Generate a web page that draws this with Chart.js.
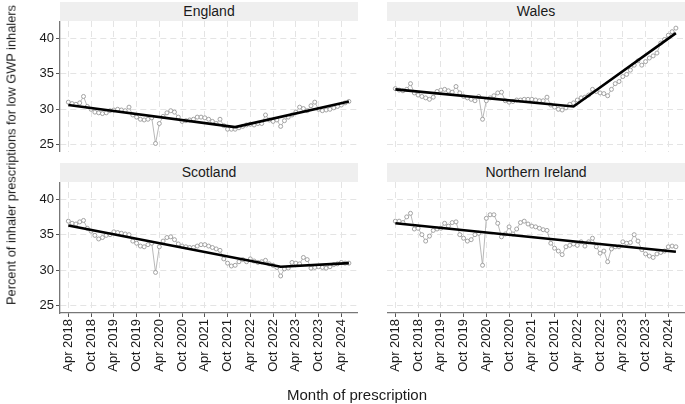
<!DOCTYPE html>
<html>
<head>
<meta charset="utf-8">
<script src="https://cdn.jsdelivr.net/npm/chart.js@4.4.0/dist/chart.umd.min.js"></script>
<style>
  body { margin: 0; background: #fff; }
  #wrap { position: relative; width: 685px; height: 404px; overflow: hidden;
          font-family: 'Liberation Sans', Arial, sans-serif; color: #1a1a1a; }
  #wrap canvas { position: absolute; }
  .strip { position: absolute; height: 19px; background: #efefef; font-size: 14px;
           line-height: 19px; text-align: center; }
  .ytitle { position: absolute; left: 11px; top: 155px; white-space: nowrap; font-size: 12.8px;
            transform: translate(-50%, -50%) rotate(-90deg); }
  .xtitle { position: absolute; left: 357px; top: 394px; white-space: nowrap; font-size: 15px;
            transform: translate(-50%, -50%); }
</style>
</head>
<body>
<div id="wrap">
  <div class="strip" style="left:60px; top:2px; width:298px;">England</div>
  <div class="strip" style="left:387px; top:2px; width:298px;">Wales</div>
  <div class="strip" style="left:60px; top:163px; width:298px;">Scotland</div>
  <div class="strip" style="left:387px; top:163px; width:298px;">Northern Ireland</div>

  <canvas id="england" width="358" height="131" style="left:0; top:21px;"></canvas>
  <canvas id="wales" width="298" height="131" style="left:387px; top:21px;"></canvas>
  <canvas id="scotland" width="358" height="222" style="left:0; top:182px;"></canvas>
  <canvas id="ni" width="298" height="222" style="left:387px; top:182px;"></canvas>

  <div class="ytitle">Percent of inhaler prescriptions for low GWP inhalers</div>
  <div class="xtitle">Month of prescription</div>
</div>

<script>
// 月次データ（2018年4月〜2024年6月, 75か月）
const england = [31.0,30.8,30.7,30.9,31.8,30.4,30.0,29.6,29.5,29.4,
  29.5,29.8,29.9,30.0,29.9,29.8,30.3,29.2,28.9,28.6,
  28.5,28.6,28.8,25.2,28.0,29.0,29.5,29.8,29.6,28.9,
  28.3,28.4,28.5,28.6,28.9,28.9,28.8,28.6,28.3,28.0,
  28.6,27.7,27.2,27.2,27.2,27.4,27.6,27.8,27.9,27.8,
  28.0,28.0,29.2,28.5,28.3,28.5,27.6,28.4,28.9,29.2,
  29.6,30.3,30.1,29.8,30.5,31.0,30.0,29.8,29.9,30.0,
  30.2,30.4,30.6,30.9,31.1];
const wales = [32.9,32.7,32.6,32.8,33.6,32.3,32.0,31.8,31.6,31.4,
  31.7,32.5,32.7,32.8,32.6,32.4,33.2,32.3,31.8,31.6,
  31.4,31.2,31.8,28.6,31.2,31.6,31.9,32.3,32.4,31.2,
  31.0,31.1,31.3,31.3,31.4,31.4,31.4,31.3,31.2,31.2,
  31.7,30.6,30.3,30.0,29.9,30.2,30.7,30.9,31.3,31.6,
  31.7,32.0,32.8,32.5,32.3,32.2,31.9,32.8,33.6,33.9,
  34.6,34.9,35.5,36.2,36.8,36.2,36.7,37.2,37.5,37.9,
  39.3,39.8,40.4,40.9,41.4];
const scotland = [36.9,36.6,36.5,36.8,37.0,35.9,35.5,34.9,34.4,34.6,
  34.9,35.0,35.4,35.3,35.2,35.1,35.0,34.1,33.8,33.4,
  33.3,33.6,33.8,29.7,33.3,34.1,34.6,34.7,34.3,33.7,
  33.4,33.3,33.2,33.2,33.4,33.6,33.6,33.4,33.2,33.0,
  32.8,31.6,31.0,30.6,30.7,31.2,31.5,31.2,31.6,31.3,
  31.1,31.2,31.4,30.9,30.7,30.4,29.2,30.2,30.3,31.1,
  31.0,30.9,31.8,31.5,30.3,30.4,30.5,30.4,30.3,30.5,
  30.8,30.9,31.1,31.0,31.0];
const northernIreland = [36.9,36.9,36.7,37.5,38.0,35.8,35.9,35.0,34.1,34.8,
  35.6,35.8,35.9,36.6,36.2,36.7,36.8,35.0,34.5,34.1,
  34.3,35.0,35.2,30.7,37.3,37.8,37.8,36.6,34.7,35.1,
  36.1,35.1,35.8,36.7,36.9,36.5,36.2,36.1,35.9,35.7,
  35.6,33.8,33.1,32.7,32.2,33.3,33.5,33.7,33.5,34.0,
  33.4,34.0,34.5,33.3,32.4,32.7,31.2,33.0,33.3,33.3,
  34.0,33.8,33.9,35.0,34.1,32.9,32.3,32.0,31.8,32.3,
  32.5,32.7,33.3,33.4,33.3];

// トレンド線（折れ点の月インデックスと値）
const englandTrendX = [0, 44, 74];
const englandTrendY = [30.6, 27.5, 31.1];
const walesTrendX = [0, 47, 74];
const walesTrendY = [32.8, 30.4, 40.7];
const scotlandTrendX = [0, 56, 74];
const scotlandTrendY = [36.3, 30.5, 31.0];
const niTrendX = [0, 74];
const niTrendY = [36.6, 32.6];

// 軸目盛
const xTickPos = [0, 6, 12, 18, 24, 30, 36, 42, 48, 54, 60, 66, 72];
const xTickLabels = ['Apr 2018','Oct 2018','Apr 2019','Oct 2019','Apr 2020','Oct 2020',
  'Apr 2021','Oct 2021','Apr 2022','Oct 2022','Apr 2023','Oct 2023','Apr 2024'];
const yTickPos = [25, 30, 35, 40];

const fontFamily = "'Liberation Sans', Arial, sans-serif";

function makePanel(id, values, trendX, trendY, showY, showX) {
    let points = values.map((v, i) => ({ x: i, y: v }));
    let trend = trendX.map((x, i) => ({ x: x, y: trendY[i] }));

    new Chart(document.getElementById(id), {
        type: 'line',
        data: {
            datasets: [{
                data: trend,
                borderColor: '#000',
                borderWidth: 2.6,
                pointRadius: 0,
                tension: 0
            }, {
                data: points,
                borderColor: '#a6a6a6',
                borderWidth: 0.8,
                pointRadius: 2,
                pointBackgroundColor: '#fff',
                pointBorderColor: '#9a9a9a',
                pointBorderWidth: 0.9,
                tension: 0
            }]
        },
        options: {
            responsive: false,
            animation: false,
            devicePixelRatio: 1,
            layout: { padding: 0, autoPadding: false },
            plugins: { legend: { display: false }, tooltip: { enabled: false } },
            scales: {
                x: {
                    type: 'linear',
                    min: -2.2,
                    max: 76.4,
                    afterBuildTicks: s => { s.ticks = xTickPos.map(v => ({ value: v })); },
                    afterFit: s => {
                        s.height = showX ? 91 : 0;
                        s.paddingLeft = 0;
                        s.paddingRight = 0;
                    },
                    grid: {
                        color: '#e4e4e4',
                        lineWidth: 1,
                        drawTicks: showX,
                        tickLength: 4,
                        tickColor: '#555',
                        tickWidth: 1
                    },
                    border: { display: showX, color: '#777', width: 1.3, dash: [6, 4] },
                    ticks: {
                        display: showX,
                        autoSkip: false,
                        maxRotation: 90,
                        minRotation: 90,
                        padding: 2,
                        color: '#1a1a1a',
                        font: { family: fontFamily, size: 13 },
                        callback: v => xTickLabels[xTickPos.indexOf(v)]
                    }
                },
                y: {
                    min: 24.0,
                    max: 42.4,
                    afterBuildTicks: s => { s.ticks = yTickPos.map(v => ({ value: v })); },
                    afterFit: s => {
                        s.width = showY ? 60 : 0;
                        s.paddingTop = 0;
                        s.paddingBottom = 0;
                    },
                    grid: {
                        color: '#e4e4e4',
                        lineWidth: 1,
                        drawTicks: showY,
                        tickLength: 4,
                        tickColor: '#555',
                        tickWidth: 1
                    },
                    border: { display: showY, color: '#777', width: 1.3, dash: [6, 4] },
                    ticks: {
                        display: showY,
                        padding: 2,
                        color: '#1a1a1a',
                        font: { family: fontFamily, size: 13 }
                    }
                }
            }
        }
    });
}

makePanel('england', england, englandTrendX, englandTrendY, true, false);
makePanel('wales', wales, walesTrendX, walesTrendY, false, false);
makePanel('scotland', scotland, scotlandTrendX, scotlandTrendY, true, true);
makePanel('ni', northernIreland, niTrendX, niTrendY, false, true);
</script>
</body>
</html>
